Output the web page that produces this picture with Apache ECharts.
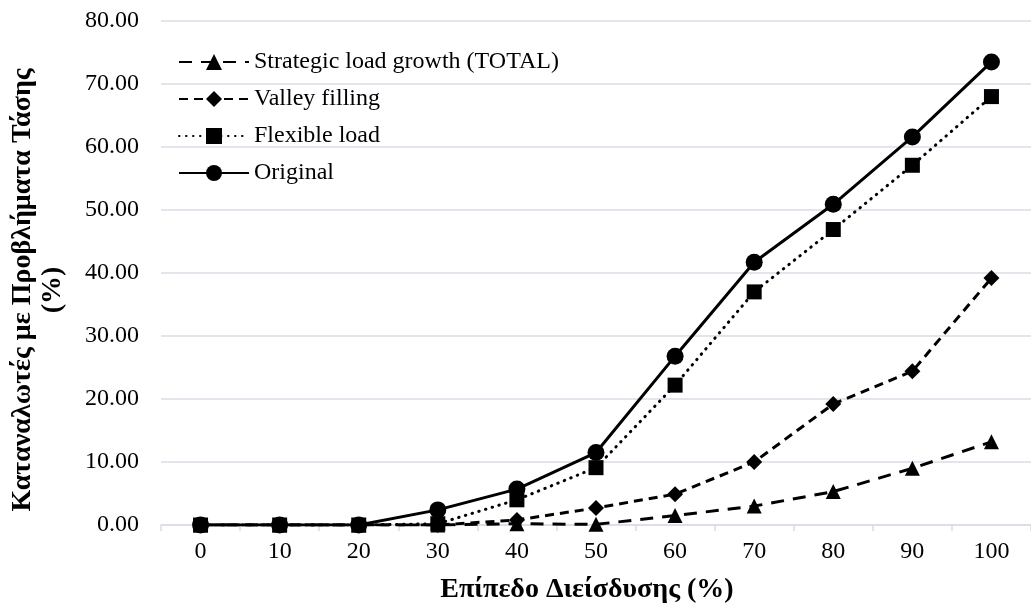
<!DOCTYPE html>
<html>
<head>
<meta charset="utf-8">
<script src="https://cdn.jsdelivr.net/npm/echarts@6/dist/echarts.min.js"></script>
<style>html,body{margin:0;padding:0;background:#fff}#c{width:1031px;height:611px}</style>
</head>
<body>
<div id="c"></div>
<script>
const categories = ['0','10','20','30','40','50','60','70','80','90','100'];
const strategic = [0, 0, 0, 0, 0.2, 0.1, 1.5, 3.0, 5.3, 9.0, 13.2];
const valley    = [0, 0, 0, 0, 0.8, 2.7, 4.9, 10.0, 19.2, 24.4, 39.2];
const flexible  = [0, 0, 0, 0.2, 4.0, 9.1, 22.2, 37.0, 46.9, 57.1, 68.0];
const original  = [0, 0, 0, 2.4, 5.7, 11.5, 26.8, 41.7, 50.9, 61.6, 73.5];
const seriesNames = ['Strategic load growth (TOTAL)', 'Valley filling', 'Flexible load', 'Original'];
const xTitle = 'Επίπεδο Διείσδυσης (%)';
const yTitle = 'Καταναλωτές με Προβλήματα Τάσης\n(%)';

const FONT = '"Liberation Serif", "Times New Roman", serif';
const chart = echarts.init(document.getElementById('c'), null, {renderer: 'canvas'});

function mk(name, data, symbol, size, dash, cap) {
  return {
    name: name, type: 'line', data: data,
    symbol: symbol, symbolSize: size,
    itemStyle: {color: '#000'},
    lineStyle: {color: '#000', width: 3, type: dash, cap: cap || 'butt'},
    emphasis: {disabled: true},
    animation: false
  };
}

chart.setOption({
  animation: false,
  grid: {left: 160, right: -9, top: 21, bottom: 86, containLabel: false},
  legend: {
    left: 173, top: 45, orient: 'vertical',
    itemWidth: 70, itemHeight: 20, itemGap: 13,
    textStyle: {fontFamily: FONT, fontSize: 24, lineHeight: 24, color: '#000'},
    data: seriesNames
  },
  xAxis: {
    type: 'category', data: categories, boundaryGap: true,
    axisLine: {lineStyle: {color: '#d9dde6', width: 1.5}},
    axisTick: {show: true, length: 6, lineStyle: {color: '#d9dde6', width: 1.5}},
    axisLabel: {fontFamily: FONT, fontSize: 24, color: '#000', margin: 15},
    name: xTitle, nameLocation: 'middle', nameGap: 51,
    nameTextStyle: {fontFamily: FONT, fontSize: 28, fontWeight: 'bold', color: '#000', padding: [0, 18, 0, 0]}
  },
  yAxis: {
    type: 'value', min: 0, max: 80, interval: 10,
    axisLine: {show: false}, axisTick: {show: false},
    splitLine: {lineStyle: {color: '#d9dde6', width: 1.5}},
    axisLabel: {fontFamily: FONT, fontSize: 24, color: '#000', margin: 22,
      formatter: v => v.toFixed(2)},
    name: yTitle, nameLocation: 'middle', nameGap: 93, nameRotate: 90,
    nameTextStyle: {fontFamily: FONT, fontSize: 28, fontWeight: 'bold', color: '#000', lineHeight: 30, padding: [0, 34, 0, 0]}
  },
  series: [
    mk(seriesNames[0], strategic, 'triangle', 15, [13, 9]),
    mk(seriesNames[1], valley, 'diamond', 16, [9, 6]),
    mk(seriesNames[2], flexible, 'rect', 15, [0.5, 6.5], 'round'),
    mk(seriesNames[3], original, 'circle', 17, 'solid')
  ]
});
</script>
</body>
</html>
